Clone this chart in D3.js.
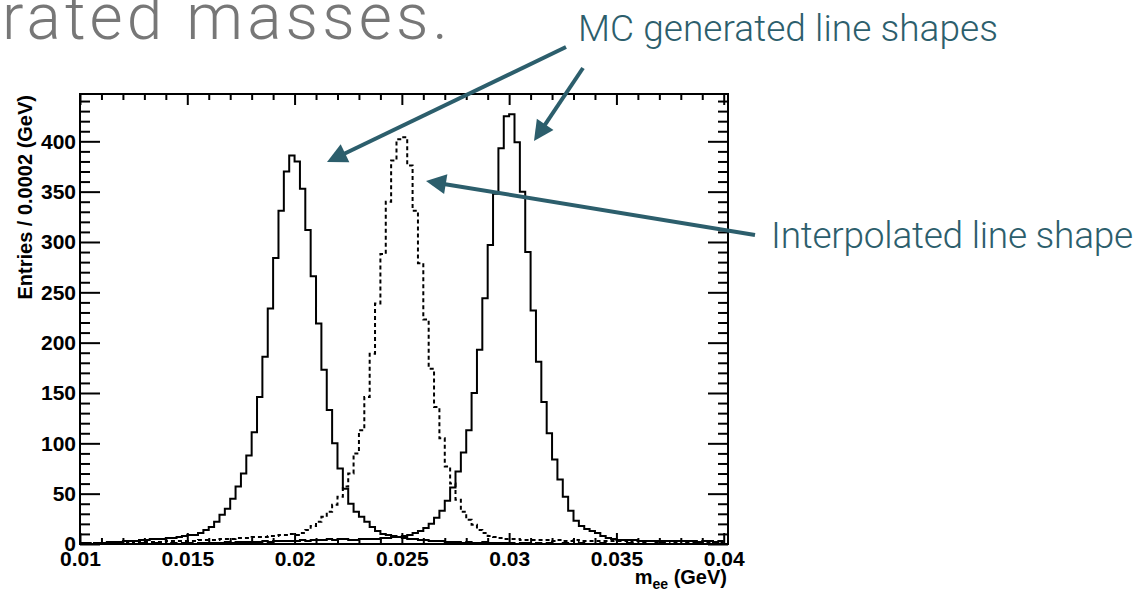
<!DOCTYPE html>
<html>
<head>
<meta charset="utf-8">
<script src="https://d3js.org/d3.v7.min.js"></script>
<style>
  body { margin: 0; background: #fff; }
  svg text { font-family: "Liberation Sans", Arial, sans-serif; }
  .note { font-family: "Helvetica Neue", Roboto, "Liberation Sans", sans-serif; font-weight: 300; }
</style>
</head>
<body>
<script>
// 120 bins of 0.00025 GeV starting at 0.01 GeV
var binLow = 0.01;
var binWidth = 0.00025;

// MC generated shape, m = 0.02 GeV (solid)
var mcLow = [
  1,1,0,1,1,2,2,2,3,3,
  3,4,4,5,5,5,6,6,7,8,
  9,9,11,14,17,22,29,35,45,57,
  70,88,111,146,186,234,284,331,370,386,
  380,353,312,266,219,173,133,100,75,55,
  40,32,27,22,17,13,10,9,8,7,
  6,5,5,4,4,3,3,3,2,2,
  2,1,2,1,1,2,1,1,1,1,
  1,0,1,1,0,1,0,1,0,0,
  1,0,0,1,0,0,0,1,0,0,
  0,0,1,0,0,0,0,0,1,0,
  0,0,0,0,0,1,0,0,0,0
];

// MC generated shape, m = 0.03 GeV (solid)
var mcHigh = [
  0,0,0,0,0,0,1,0,0,0,
  0,1,0,0,1,0,0,1,0,1,
  1,0,1,1,1,1,1,2,1,2,
  2,2,2,2,3,2,3,3,3,3,
  3,4,3,4,4,4,5,4,5,5,
  4,4,5,5,5,5,6,6,7,7,
  8,9,11,13,16,20,26,33,43,56,
  72,91,113,150,193,244,297,348,393,425,
  427,399,350,290,232,181,141,110,84,64,
  47,33,23,18,15,13,11,8,6,5,
  4,4,4,4,3,3,3,3,3,3,
  3,3,3,3,3,2,3,3,2,3
];

// interpolated shape, m = 0.025 GeV (dashed)
var interp = [
  0,0,1,0,1,1,1,1,1,2,
  1,2,2,2,2,2,3,3,3,3,
  3,3,4,4,4,4,5,5,5,6,
  6,6,7,7,7,8,8,9,9,10,
  9,11,14,18,22,27,32,39,47,57,
  70,90,113,146,189,239,288,340,381,402,
  404,376,331,279,223,174,136,105,77,60,
  44,32,24,19,14,11,8,7,6,5,
  5,5,4,4,4,4,4,4,3,4,
  3,3,4,3,3,3,3,3,3,3,
  3,3,2,3,3,2,3,2,2,3,
  2,2,3,2,2,2,2,2,2,2
];

var xTicks = [0.01, 0.015, 0.02, 0.025, 0.03, 0.035, 0.04];
var xTickLabels = ["0.01", "0.015", "0.02", "0.025", "0.03", "0.035", "0.04"];
var yTicks = [0, 50, 100, 150, 200, 250, 300, 350, 400];

var W = 1134, H = 590;
var frame = {left: 80, right: 728, top: 94, bottom: 544};
var teal = "#2c5e6c";

var svg = d3.select("body").append("svg")
  .attr("width", W)
  .attr("height", H);

var x = d3.scaleLinear().domain([0.01, 0.0402]).range([frame.left, frame.right]);
var y = d3.scaleLinear().domain([0, 447]).range([frame.bottom, frame.top]);

// histograms as step lines
var toPoints = function(vals) {
  var pts = vals.map(function(v, i) { return [binLow + i * binWidth, v]; });
  pts.push([binLow + vals.length * binWidth, vals[vals.length - 1]]);
  return pts;
};
var step = d3.line()
  .x(function(d) { return x(d[0]); })
  .y(function(d) { return y(d[1]); })
  .curve(d3.curveStepAfter);

svg.append("path").attr("d", step(toPoints(interp)))
  .attr("fill", "none").attr("stroke", "#000").attr("stroke-width", 2)
  .attr("stroke-dasharray", "4,3");
svg.append("path").attr("d", step(toPoints(mcLow)))
  .attr("fill", "none").attr("stroke", "#000").attr("stroke-width", 2);
svg.append("path").attr("d", step(toPoints(mcHigh)))
  .attr("fill", "none").attr("stroke", "#000").attr("stroke-width", 2);

// minor tick values
var xMinor = d3.range(10, 41).filter(function(d) { return d % 5 !== 0; }).map(function(d) { return d / 1000; });
var yMinor = d3.range(0, 441, 10).filter(function(d) { return d % 50 !== 0; });

var styleAxis = function(g) {
  g.select(".domain").remove();
  g.selectAll("line").attr("stroke", "#000").attr("stroke-width", 2);
  g.selectAll("text").attr("fill", "#000").style("font-weight", "bold").style("font-size", "21px");
};

// bottom
svg.append("g").attr("transform", "translate(0," + frame.bottom + ")")
  .call(d3.axisBottom(x).tickValues(xTicks).tickSize(-11).tickSizeOuter(0).tickPadding(7)
    .tickFormat(function(d, i) { return xTickLabels[i]; }))
  .call(styleAxis);
svg.append("g").attr("transform", "translate(0," + frame.bottom + ")")
  .call(d3.axisBottom(x).tickValues(xMinor).tickSize(-6).tickSizeOuter(0).tickFormat(""))
  .call(styleAxis);
// top
svg.append("g").attr("transform", "translate(0," + frame.top + ")")
  .call(d3.axisTop(x).tickValues(xTicks).tickSize(-11).tickSizeOuter(0).tickFormat(""))
  .call(styleAxis);
svg.append("g").attr("transform", "translate(0," + frame.top + ")")
  .call(d3.axisTop(x).tickValues(xMinor).tickSize(-6).tickSizeOuter(0).tickFormat(""))
  .call(styleAxis);
// left
svg.append("g").attr("transform", "translate(" + frame.left + ",0)")
  .call(d3.axisLeft(y).tickValues(yTicks).tickSize(-20).tickSizeOuter(0).tickPadding(4))
  .call(styleAxis);
svg.append("g").attr("transform", "translate(" + frame.left + ",0)")
  .call(d3.axisLeft(y).tickValues(yMinor).tickSize(-10).tickSizeOuter(0).tickFormat(""))
  .call(styleAxis);
// right
svg.append("g").attr("transform", "translate(" + frame.right + ",0)")
  .call(d3.axisRight(y).tickValues(yTicks).tickSize(-20).tickSizeOuter(0).tickFormat(""))
  .call(styleAxis);
svg.append("g").attr("transform", "translate(" + frame.right + ",0)")
  .call(d3.axisRight(y).tickValues(yMinor).tickSize(-10).tickSizeOuter(0).tickFormat(""))
  .call(styleAxis);

// frame
svg.append("rect")
  .attr("x", frame.left).attr("y", frame.top)
  .attr("width", frame.right - frame.left).attr("height", frame.bottom - frame.top)
  .attr("fill", "none").attr("stroke", "#000").attr("stroke-width", 2);

// axis titles
svg.append("text")
  .attr("transform", "translate(32," + (frame.top + 1) + ") rotate(-90)")
  .attr("text-anchor", "end")
  .style("font-weight", "bold").style("font-size", "20px")
  .text("Entries / 0.0002 (GeV)");

var xt = svg.append("text")
  .attr("x", frame.right - 1).attr("y", 584)
  .attr("text-anchor", "end")
  .style("font-weight", "bold").style("font-size", "20px");
xt.append("tspan").text("m");
xt.append("tspan").attr("dy", 5).style("font-size", "14px").text("ee");
xt.append("tspan").attr("dy", -5).text(" (GeV)");

// slide annotations
var fitWidth = function(t, target) {
  var w = t.node().getComputedTextLength();
  var n = t.text().length;
  t.style("letter-spacing", ((target - w) / n) + "px");
};

var title = svg.append("text").attr("class", "note")
  .attr("x", 2).attr("y", 39)
  .attr("fill", "#777777").style("font-size", "64px")
  .text("rated masses.");
fitWidth(title, 450);

var mcLabel = svg.append("text").attr("class", "note")
  .attr("x", 578).attr("y", 41)
  .attr("fill", teal).style("font-size", "37px")
  .text("MC generated line shapes");
fitWidth(mcLabel, 420);

var interpLabel = svg.append("text").attr("class", "note")
  .attr("x", 771).attr("y", 248)
  .attr("fill", teal).style("font-size", "37px")
  .text("Interpolated line shape");
fitWidth(interpLabel, 362);

var arrow = function(x1, y1, x2, y2) {
  var dx = x2 - x1, dy = y2 - y1, len = Math.sqrt(dx * dx + dy * dy);
  var ux = dx / len, uy = dy / len;
  var head = 20, half = 10;
  var bx = x2 - ux * head, by = y2 - uy * head;
  svg.append("line")
    .attr("x1", x1).attr("y1", y1).attr("x2", bx + ux * 2).attr("y2", by + uy * 2)
    .attr("stroke", teal).attr("stroke-width", 4);
  svg.append("polygon")
    .attr("points", [[x2, y2], [bx - uy * half, by + ux * half], [bx + uy * half, by - ux * half]].join(" "))
    .attr("fill", teal);
};
arrow(566, 47, 327, 162);
arrow(583, 68, 534, 141);
arrow(755, 235, 426, 181);
</script>
</body>
</html>
